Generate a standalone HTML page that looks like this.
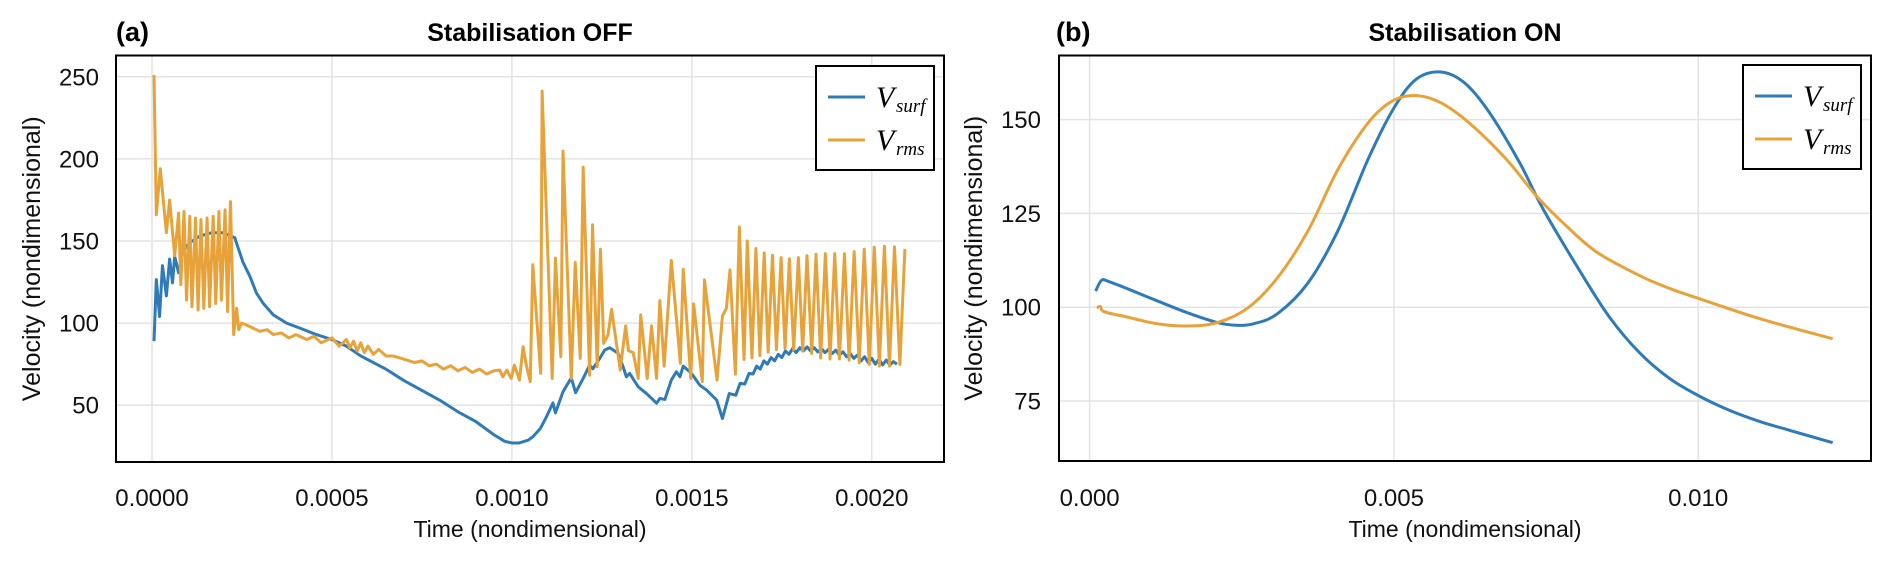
<!DOCTYPE html>
<html><head><meta charset="utf-8">
<style>
html,body{margin:0;padding:0;background:#fff;}
svg{display:block;font-family:"Liberation Sans",sans-serif;}
</style></head>
<body>
<svg id="fig" width="1892" height="565" viewBox="0 0 1892 565" xmlns="http://www.w3.org/2000/svg"></svg>
<script>
// ---------- Panel (a) data ----------
const timeSurfA = [5.6e-6,1.2e-5,2.1e-5,2.9e-5,4.0e-5,4.9e-5,5.7e-5,6.3e-5,7.4e-5,8.6e-5,1.05e-4,1.33e-4,1.65e-4,1.98e-4,2.3e-4,2.39e-4,2.53e-4,2.72e-4,2.9e-4,3.09e-4,3.37e-4,3.74e-4,4.1e-4,4.57e-4,5.0e-4,5.4e-4,5.8e-4,6.5e-4,7.0e-4,7.5e-4,8.0e-4,8.5e-4,9.0e-4,9.5e-4,9.8e-4,1.0e-3,1.02e-3,1.035e-3,1.045e-3,1.058e-3,1.079e-3,1.096e-3,1.114e-3,1.121e-3,1.142e-3,1.165e-3,1.177e-3,1.198e-3,1.216e-3,1.225e-3,1.244e-3,1.258e-3,1.272e-3,1.295e-3,1.309e-3,1.318e-3,1.327e-3,1.351e-3,1.374e-3,1.402e-3,1.411e-3,1.425e-3,1.443e-3,1.457e-3,1.467e-3,1.476e-3,1.499e-3,1.522e-3,1.541e-3,1.569e-3,1.585e-3,1.604e-3,1.622e-3,1.634e-3,1.647e-3,1.659e-3,1.670e-3,1.680e-3,1.69e-3,1.70e-3,1.71e-3,1.72e-3,1.73e-3,1.74e-3,1.75e-3,1.76e-3,1.77e-3,1.78e-3,1.79e-3,1.80e-3,1.81e-3,1.82e-3,1.83e-3,1.84e-3,1.85e-3,1.86e-3,1.87e-3,1.88e-3,1.89e-3,1.90e-3,1.91e-3,1.92e-3,1.93e-3,1.94e-3,1.95e-3,1.96e-3,1.97e-3,1.98e-3,1.99e-3,2.00e-3,2.01e-3,2.02e-3,2.03e-3,2.04e-3,2.05e-3,2.06e-3,2.07e-3,2.08e-3,2.09e-3];
const velSurfA = [89,126.5,104,135,116.6,139,124.5,140.7,130.6,143.7,149,153,155,155,152,146,137,128.5,118.4,112,105,100,97,93,90,86,80,72,65,59,53,46,40,32,28,27,27,28,28.7,30.7,35.8,42.9,51.4,45.3,58.2,66.7,57.6,66.3,74.4,72.2,78.5,83.6,85,81.6,73.4,67.3,69.4,61.2,57.1,51.2,54.1,53.5,65.3,70.4,67.3,73.8,69.4,62.2,59.2,53.1,41.9,57.1,56.1,63.3,62.9,69.4,69,73.8,72,77,75,79,77,81,79,83,81,84.5,82,85,83,85.5,83,85,82.5,84.5,82,84,81.5,83.5,80.5,82.5,79.5,81.5,78.5,80.5,77,79.5,76,78.5,75,78,74.5,77.5,74.5,76.5,75];

const timeRmsA = [5.6e-6,1.2e-5,2.3e-5,4.0e-5,4.9e-5,6.3e-5,7.4e-5,8.0e-5,8.9e-5,9.6e-5,1.05e-4,1.11e-4,1.21e-4,1.28e-4,1.36e-4,1.44e-4,1.53e-4,1.60e-4,1.70e-4,1.77e-4,1.86e-4,1.93e-4,2.03e-4,2.10e-4,2.18e-4,2.27e-4,2.35e-4,2.41e-4,2.49e-4,2.61e-4,2.8e-4,3.0e-4,3.2e-4,3.37e-4,3.6e-4,3.8e-4,4.0e-4,4.3e-4,4.5e-4,4.7e-4,5.0e-4,5.2e-4,5.4e-4,5.5e-4,5.6e-4,5.7e-4,5.8e-4,5.9e-4,6.0e-4,6.15e-4,6.3e-4,6.5e-4,6.7e-4,7.0e-4,7.3e-4,7.5e-4,7.7e-4,7.9e-4,8.1e-4,8.3e-4,8.5e-4,8.7e-4,8.9e-4,9.1e-4,9.3e-4,9.5e-4,9.66e-4,9.75e-4,9.86e-4,9.98e-4,1.007e-3,1.021e-3,1.031e-3,1.040e-3,1.051e-3,1.058e-3,1.080e-3,1.084e-3,1.112e-3,1.121e-3,1.136e-3,1.142e-3,1.165e-3,1.176e-3,1.190e-3,1.198e-3,1.216e-3,1.224e-3,1.237e-3,1.246e-3,1.255e-3,1.267e-3,1.277e-3,1.301e-3,1.316e-3,1.324e-3,1.337e-3,1.351e-3,1.358e-3,1.376e-3,1.388e-3,1.402e-3,1.411e-3,1.423e-3,1.443e-3,1.468e-3,1.476e-3,1.497e-3,1.505e-3,1.529e-3,1.535e-3,1.570e-3,1.585e-3,1.596e-3,1.606e-3,1.621e-3,1.632e-3,1.645e-3,1.654e-3,1.667e-3,1.678e-3,1.689e-3,1.701e-3,1.712e-3,1.724e-3,1.735e-3,1.748e-3,1.759e-3,1.771e-3,1.783e-3,1.796e-3,1.808e-3,1.820e-3,1.833e-3,1.845e-3,1.858e-3,1.871e-3,1.884e-3,1.897e-3,1.910e-3,1.924e-3,1.937e-3,1.951e-3,1.965e-3,1.979e-3,1.993e-3,2.007e-3,2.021e-3,2.035e-3,2.049e-3,2.063e-3,2.078e-3,2.092e-3];
const velRmsA = [251,166,194,155,175,141,167,123.5,168,114,165,110,164,108,163,109,164,110,165,112,168,114,169,107,174,93,109,96,100,99,97,95,96,93,94,91,93,90,92,88,91,86,90,85,89,83,88,82,86,81,84,80,80,78,76,77,74,75,72,74,71,73,70,72,69,71,71.4,67.3,71.4,66.3,74.4,65.3,85.6,74.4,64.3,135.5,69.4,241.3,66.3,139.6,79.5,204.7,66.3,136.9,78.5,195,68.3,159.9,73.4,145,87.7,92.8,108.4,71.4,98.3,83.2,82,66.3,105,66.3,98.3,66.3,113.7,73.8,138.1,75.5,132.8,66.3,111.7,64.3,126.3,65.3,104.4,109,132.4,68.9,158.5,77.8,150,78.8,145.4,80.2,142.7,82.3,141.3,83.9,139.9,84.5,139.1,83.9,139.9,83,141.1,81.5,141.9,78.8,142.3,78.2,142.3,78.2,142.3,77.4,143.5,75.8,145,74.8,146.2,73.8,146.8,73.8,146.4,74.8,145.2,75.8];

// ---------- Panel (b) data ----------
const timeSurfB = [9.9e-5,1.98e-4,3.2e-4,6.1e-4,1.11e-3,1.61e-3,2.1e-3,2.4e-3,2.7e-3,3.09e-3,3.59e-3,4.08e-3,4.58e-3,5.0e-3,5.37e-3,5.77e-3,6.16e-3,6.56e-3,7.06e-3,7.45e-3,8.05e-3,8.54e-3,9.04e-3,9.53e-3,1.003e-2,1.053e-2,1.102e-2,1.152e-2,1.221e-2];
const velSurfB = [104.3,107.2,106.8,105,101.7,98.5,95.9,95.2,95.6,98.3,106.5,120.4,139.6,153.1,160.8,162.7,159.8,152.1,138.7,126.2,109.8,97.4,87.8,81,76.2,72.4,69.5,67.1,63.9];
const timeRmsB = [1.19e-4,1.78e-4,2.4e-4,6.1e-4,1.11e-3,1.61e-3,2.1e-3,2.6e-3,3.09e-3,3.59e-3,4.08e-3,4.58e-3,4.98e-3,5.37e-3,5.77e-3,6.26e-3,6.86e-3,7.35e-3,7.85e-3,8.34e-3,9.04e-3,9.53e-3,1.003e-2,1.102e-2,1.221e-2];
const velRmsB = [99.8,100.2,98.8,97.4,95.6,95,95.9,99.8,107.9,120.4,136.7,149.2,155,156.4,154.5,148.8,139.2,129.5,121.4,114.6,108.4,105,102.2,96.9,91.6];

const xTicksA = [0,0.0005,0.001,0.0015,0.002];
const xTickLabelsA = ["0.0000","0.0005","0.0010","0.0015","0.0020"];
const yTicksA = [50,100,150,200,250];
const xTicksB = [0,0.005,0.010];
const xTickLabelsB = ["0.000","0.005","0.010"];
const yTicksB = [75,100,125,150];

const BLUE = "#2f7bb8", ORANGE = "#e8a23a";
const NS = "http://www.w3.org/2000/svg";
const svg = document.getElementById('fig');

function mk(tag, attrs, parent){
  const e = document.createElementNS(NS, tag);
  for (const k in attrs) e.setAttribute(k, attrs[k]);
  (parent||svg).appendChild(e);
  return e;
}

function panel(cfg){
  const g = mk('g', {});
  
  
  const {L,R,T,B} = cfg;
  const xs = t => cfg.x0px + t / cfg.xUnit * cfg.xUnitPx;
  const ys = v => cfg.yRefPx + (cfg.yRef - v) * cfg.yPxPerUnit;
  cfg.xTicks.forEach((t,i)=>{
    const l = mk('line',{x1:xs(t),x2:xs(t),y1:T,y2:B,stroke:'#e3e3e3','stroke-width':1.5},g);
    
    
    const tx = mk('text',{x:xs(t),y:506,'text-anchor':'middle','font-size':24,fill:'#111'},g);
    tx.textContent = cfg.xLabels[i];
    
    
  });
  cfg.yTicks.forEach(v=>{
    const l = mk('line',{x1:L,x2:R,y1:ys(v),y2:ys(v),stroke:'#e3e3e3','stroke-width':1.5},g);
    
    
    const tx = mk('text',{x:cfg.yLabX,y:ys(v)+8.5,'text-anchor':'end','font-size':24,fill:'#111'},g);
    tx.textContent = String(v);
    
    
  });
  const cp = mk('clipPath',{id:cfg.name+'-clip'},g);
  mk('rect',{x:L,y:T,width:R-L,height:B-T},cp);
  const sg = mk('g',{'clip-path':'url(#'+cfg.name+'-clip)'},g);
  cfg.series.forEach(s=>{
    const pts = s.t.map((t,i)=>[xs(t), ys(s.v[i])]);
    let d;
    if (s.smooth){
      d = 'M'+pts[0][0].toFixed(2)+','+pts[0][1].toFixed(2);
      for (let i=0;i<pts.length-1;i++){
        const p0=pts[Math.max(0,i-1)],p1=pts[i],p2=pts[i+1],p3=pts[Math.min(pts.length-1,i+2)];
        const c1=[p1[0]+(p2[0]-p0[0])/6,p1[1]+(p2[1]-p0[1])/6];
        const c2=[p2[0]-(p3[0]-p1[0])/6,p2[1]-(p3[1]-p1[1])/6];
        d+=' C'+c1[0].toFixed(2)+','+c1[1].toFixed(2)+' '+c2[0].toFixed(2)+','+c2[1].toFixed(2)+' '+p2[0].toFixed(2)+','+p2[1].toFixed(2);
      }
    } else {
      d = pts.map((p,i)=>(i?'L':'M')+p[0].toFixed(2)+','+p[1].toFixed(2)).join(' ');
    }
    const p = mk('path',{d:d,fill:'none',stroke:s.color,'stroke-width':3,'stroke-linejoin':'round'},sg);
    
    
  });
  const fr = mk('rect',{x:L,y:T,width:R-L,height:B-T,fill:'none',stroke:'#000','stroke-width':2},g);
  
  
  const lab = mk('text',{x:cfg.tagX,y:41,'font-size':27,'font-weight':'bold',fill:'#000'},g);
  lab.textContent = cfg.tag;
  
  
  const tt = mk('text',{x:(L+R)/2,y:41,'text-anchor':'middle','font-size':25,'font-weight':'bold',fill:'#000'},g);
  tt.textContent = cfg.title;
  
  
  const xl = mk('text',{x:(L+R)/2,y:537,'text-anchor':'middle','font-size':23,fill:'#111'},g);
  xl.textContent = 'Time (nondimensional)';
  
  
  const yl = mk('text',{x:0,y:0,'text-anchor':'middle','font-size':25,fill:'#111',transform:'translate('+cfg.yTitleX+','+((T+B)/2)+') rotate(-90)'},g);
  yl.textContent = 'Velocity (nondimensional)';
  
  
  const lg = mk('g',{},g);
  
  
  const lx = cfg.legX, ly = cfg.legY;
  mk('rect',{x:lx,y:ly,width:118,height:104,fill:'#fff',stroke:'#000','stroke-width':2},lg);
  [['surf',BLUE,31],['rms',ORANGE,74]].forEach(([sub,col,dy])=>{
    const e = mk('g',{},lg);
    
    
    mk('line',{x1:lx+12,x2:lx+49,y1:ly+dy,y2:ly+dy,stroke:col,'stroke-width':3},e);
    const t = mk('text',{x:lx+60,y:ly+dy+10,'font-family':'"Liberation Serif",serif','font-style':'italic','font-size':30,fill:'#000'},e);
    t.textContent = 'V';
    const s = mk('text',{x:lx+80,y:ly+dy+15,'font-family':'"Liberation Serif",serif','font-style':'italic','font-size':19,fill:'#000'},e);
    s.textContent = sub;
  });
}

panel({name:'panel-a',L:116,R:944,T:55.5,B:462,x0px:152,xUnit:0.0005,xUnitPx:179.95,yRef:250,yRefPx:76.8,yPxPerUnit:1.642,
  xTicks:xTicksA,xLabels:xTickLabelsA,yTicks:yTicksA,yLabX:99,yTitleX:40,tag:'(a)',tagX:116,title:'Stabilisation OFF',
  legX:816,legY:66,
  series:[{name:'line-v-surf-a',t:timeSurfA,v:velSurfA,color:BLUE},{name:'line-v-rms-a',t:timeRmsA,v:velRmsA,color:ORANGE}]});
panel({name:'panel-b',L:1059,R:1871,T:55.5,B:461,x0px:1089.6,xUnit:0.005,xUnitPx:304.3,yRef:150,yRefPx:119.6,yPxPerUnit:3.752,
  xTicks:xTicksB,xLabels:xTickLabelsB,yTicks:yTicksB,yLabX:1041,yTitleX:982,tag:'(b)',tagX:1056,title:'Stabilisation ON',
  legX:1743,legY:65,
  series:[{name:'line-v-surf-b',t:timeSurfB,v:velSurfB,color:BLUE,smooth:true},{name:'line-v-rms-b',t:timeRmsB,v:velRmsB,color:ORANGE,smooth:true}]});
</script>
</body></html>
